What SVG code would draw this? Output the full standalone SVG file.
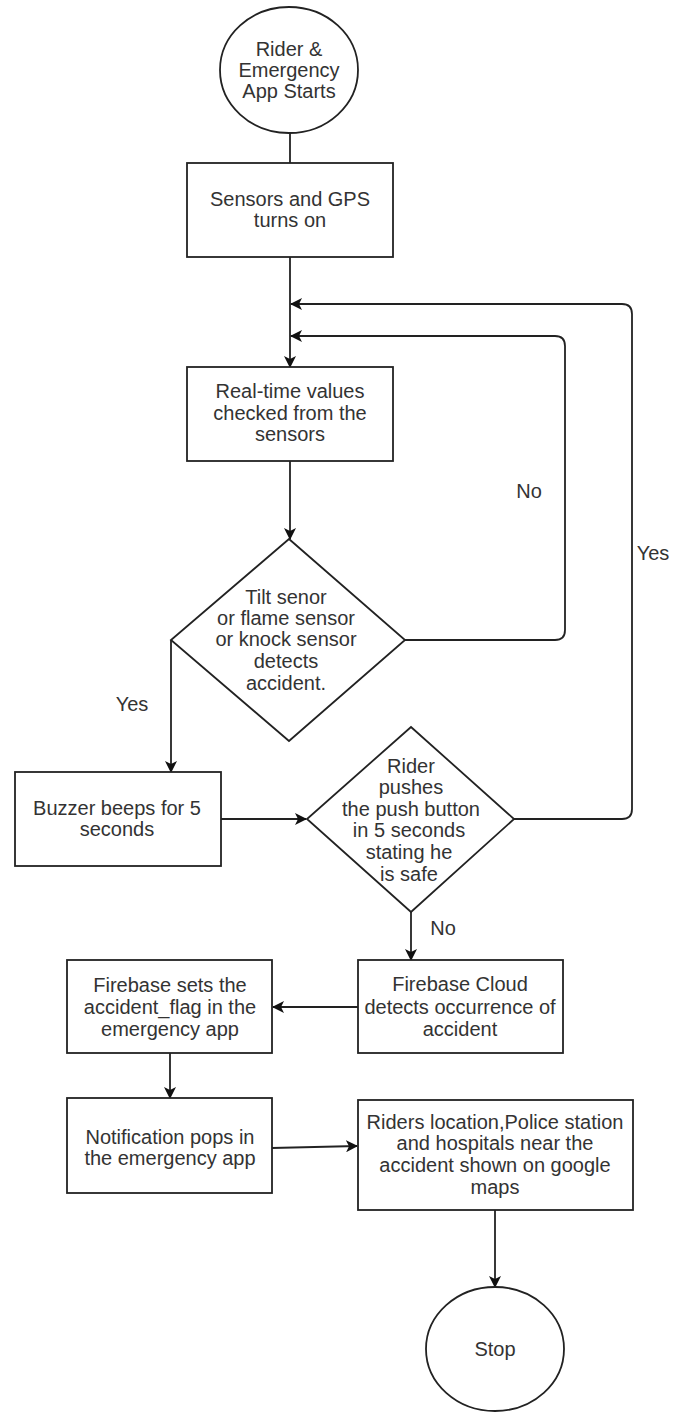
<svg xmlns="http://www.w3.org/2000/svg" width="686" height="1412" viewBox="0 0 686 1412">
  <style>
    .shape { fill: #ffffff; stroke: #222222; stroke-width: 1.8; }
    .edge { fill: none; stroke: #222222; stroke-width: 1.8; }
    .label { font-family: "Liberation Sans", Arial, sans-serif; font-size: 20px; fill: #333333; text-anchor: middle; dominant-baseline: central; }
  </style>
  <defs>
    <marker id="arrow" viewBox="0 0 12 12" refX="11" refY="6" markerWidth="12" markerHeight="12" markerUnits="userSpaceOnUse" orient="auto">
      <path d="M0,0 L12,6 L0,12 L3,6 z" fill="#111111"/>
    </marker>
  </defs>
  <rect width="686" height="1412" fill="#ffffff"/>

  <!-- connectors -->
  <g id="connectors">
    <path class="edge" d="M290,133 L290,163"/>
    <path class="edge" d="M290,257 L290,367" marker-end="url(#arrow)"/>
    <path class="edge" d="M290,461 L290,539" marker-end="url(#arrow)"/>
    <!-- No: back to sensor check -->
    <path class="edge" d="M405,640 L555,640 Q565,640 565,630 L565,346 Q565,336 555,336 L291,336" marker-end="url(#arrow)"/>
    <!-- Yes: rider safe, back to sensor check -->
    <path class="edge" d="M514,819 L622,819 Q632,819 632,809 L632,314 Q632,304 622,304 L291,304" marker-end="url(#arrow)"/>
    <!-- Yes: accident detected -->
    <path class="edge" d="M171,640 L171,772" marker-end="url(#arrow)"/>
    <path class="edge" d="M221,819 L306,819" marker-end="url(#arrow)"/>
    <!-- No: rider did not respond -->
    <path class="edge" d="M411,912 L411,960" marker-end="url(#arrow)"/>
    <path class="edge" d="M358,1007 L273,1007" marker-end="url(#arrow)"/>
    <path class="edge" d="M170,1053 L170,1098" marker-end="url(#arrow)"/>
    <path class="edge" d="M272,1148 L357,1146" marker-end="url(#arrow)"/>
    <path class="edge" d="M495,1210 L495,1287" marker-end="url(#arrow)"/>
    <text class="label" x="132" y="704">Yes</text>
    <text class="label" x="653" y="553">Yes</text>
    <text class="label" x="529" y="491">No</text>
    <text class="label" x="443" y="928">No</text>
  </g>

  <g id="start">
    <ellipse class="shape" cx="289" cy="70" rx="69" ry="63"/>
    <text class="label" x="289" y="49">Rider &amp;</text>
    <text class="label" x="289" y="70">Emergency</text>
    <text class="label" x="289" y="91">App Starts</text>
  </g>

  <g id="sensors-on">
    <rect class="shape" x="187" y="163" width="206" height="94"/>
    <text class="label" x="290" y="199">Sensors and GPS</text>
    <text class="label" x="290" y="220">turns on</text>
  </g>

  <g id="check-values">
    <rect class="shape" x="187" y="367" width="206" height="94"/>
    <text class="label" x="290" y="391">Real-time values</text>
    <text class="label" x="290" y="413">checked from the</text>
    <text class="label" x="290" y="434">sensors</text>
  </g>

  <g id="accident-detected">
    <polygon class="shape" points="289,539 405,640 289,741 171,640"/>
    <text class="label" x="286" y="597">Tilt senor</text>
    <text class="label" x="286" y="618">or flame sensor</text>
    <text class="label" x="286" y="639">or knock sensor</text>
    <text class="label" x="286" y="661">detects</text>
    <text class="label" x="286" y="683">accident.</text>
  </g>

  <g id="buzzer">
    <rect class="shape" x="15" y="772" width="206" height="94"/>
    <text class="label" x="117" y="808">Buzzer beeps for 5</text>
    <text class="label" x="117" y="829">seconds</text>
  </g>

  <g id="rider-safe">
    <polygon class="shape" points="411,727 514,819 411,912 307,819"/>
    <text class="label" x="411" y="766">Rider</text>
    <text class="label" x="411" y="787">pushes</text>
    <text class="label" x="411" y="809">the push button</text>
    <text class="label" x="409" y="830">in 5 seconds</text>
    <text class="label" x="409" y="852">stating he</text>
    <text class="label" x="409" y="874">is safe</text>
  </g>

  <g id="firebase-cloud">
    <rect class="shape" x="358" y="960" width="205" height="93"/>
    <text class="label" x="460" y="984">Firebase Cloud</text>
    <text class="label" x="460" y="1007">detects occurrence of</text>
    <text class="label" x="460" y="1029">accident</text>
  </g>

  <g id="firebase-flag">
    <rect class="shape" x="67" y="960" width="205" height="93"/>
    <text class="label" x="170" y="985">Firebase sets the</text>
    <text class="label" x="170" y="1007">accident_flag in the</text>
    <text class="label" x="170" y="1029">emergency app</text>
  </g>

  <g id="notification">
    <rect class="shape" x="67" y="1098" width="205" height="95"/>
    <text class="label" x="170" y="1137">Notification pops in</text>
    <text class="label" x="170" y="1158">the emergency app</text>
  </g>

  <g id="map-view">
    <rect class="shape" x="358" y="1100" width="275" height="110"/>
    <text class="label" x="495" y="1122">Riders location,Police station</text>
    <text class="label" x="495" y="1143">and hospitals near the</text>
    <text class="label" x="495" y="1165">accident shown on google</text>
    <text class="label" x="495" y="1187">maps</text>
  </g>

  <g id="stop">
    <ellipse class="shape" cx="495" cy="1349" rx="69" ry="62"/>
    <text class="label" x="495" y="1349">Stop</text>
  </g>
</svg>
